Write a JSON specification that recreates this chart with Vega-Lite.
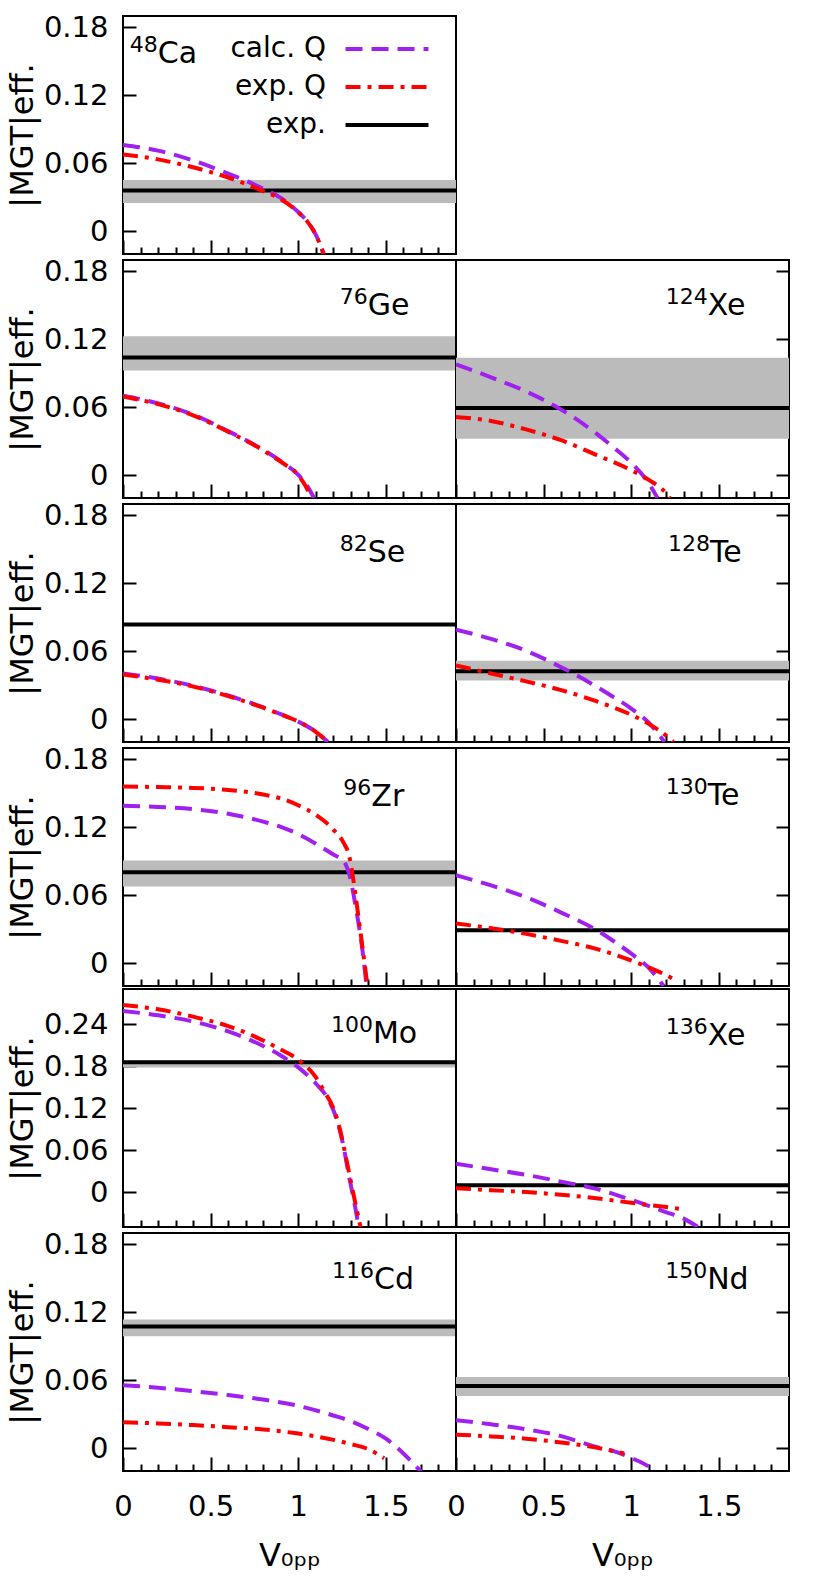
{
  "$schema": "https://vega.github.io/schema/vega-lite/v6.json",
  "description": "|M_GT|eff. versus V0pp for eleven double-beta nuclei",
  "background": "white",
  "padding": {"left": 5, "top": 12, "right": 5, "bottom": 5},
  "datasets": {
    "bands": [
      {"p": "Ca", "lo": 0.0251, "hi": 0.0454},
      {"p": "Ge", "lo": 0.0925, "hi": 0.1228},
      {"p": "Xe124", "lo": 0.0322, "hi": 0.1038},
      {"p": "Se", "lo": 0.0825, "hi": 0.085},
      {"p": "Te128", "lo": 0.0343, "hi": 0.0516},
      {"p": "Zr", "lo": 0.0678, "hi": 0.0907},
      {"p": "Te130", "lo": 0.0285, "hi": 0.030},
      {"p": "Mo", "lo": 0.178, "hi": 0.188},
      {"p": "Xe136", "lo": 0.0085, "hi": 0.0105},
      {"p": "Cd", "lo": 0.0989, "hi": 0.1137},
      {"p": "Nd", "lo": 0.0462, "hi": 0.063}
    ],
    "curves": [
      {"p": "Ca", "s": "exp.", "v": 0, "m": 0.0361},
      {"p": "Ca", "s": "exp.", "v": 1.9, "m": 0.0361},
      {"p": "Ca", "s": "calc. Q", "v": 0, "m": 0.0763},
      {"p": "Ca", "s": "calc. Q", "v": 0.2, "m": 0.0712},
      {"p": "Ca", "s": "calc. Q", "v": 0.4, "m": 0.0625},
      {"p": "Ca", "s": "calc. Q", "v": 0.6, "m": 0.051},
      {"p": "Ca", "s": "calc. Q", "v": 0.8, "m": 0.0376},
      {"p": "Ca", "s": "calc. Q", "v": 0.9, "m": 0.0295},
      {"p": "Ca", "s": "calc. Q", "v": 1.0, "m": 0.017},
      {"p": "Ca", "s": "calc. Q", "v": 1.05, "m": 0.009},
      {"p": "Ca", "s": "calc. Q", "v": 1.1, "m": -0.003},
      {"p": "Ca", "s": "calc. Q", "v": 1.145, "m": -0.02},
      {"p": "Ca", "s": "exp. Q", "v": 0, "m": 0.0679},
      {"p": "Ca", "s": "exp. Q", "v": 0.2, "m": 0.0635},
      {"p": "Ca", "s": "exp. Q", "v": 0.4, "m": 0.0565},
      {"p": "Ca", "s": "exp. Q", "v": 0.6, "m": 0.0475},
      {"p": "Ca", "s": "exp. Q", "v": 0.8, "m": 0.0355},
      {"p": "Ca", "s": "exp. Q", "v": 0.9, "m": 0.0285},
      {"p": "Ca", "s": "exp. Q", "v": 1.0, "m": 0.0168},
      {"p": "Ca", "s": "exp. Q", "v": 1.05, "m": 0.009},
      {"p": "Ca", "s": "exp. Q", "v": 1.1, "m": -0.003},
      {"p": "Ca", "s": "exp. Q", "v": 1.145, "m": -0.02},

      {"p": "Ge", "s": "exp.", "v": 0, "m": 0.104},
      {"p": "Ge", "s": "exp.", "v": 1.9, "m": 0.104},
      {"p": "Ge", "s": "calc. Q", "v": 0, "m": 0.0702},
      {"p": "Ge", "s": "calc. Q", "v": 0.2, "m": 0.0635},
      {"p": "Ge", "s": "calc. Q", "v": 0.4, "m": 0.0535},
      {"p": "Ge", "s": "calc. Q", "v": 0.6, "m": 0.039},
      {"p": "Ge", "s": "calc. Q", "v": 0.8, "m": 0.0225},
      {"p": "Ge", "s": "calc. Q", "v": 0.9, "m": 0.0125},
      {"p": "Ge", "s": "calc. Q", "v": 1.0, "m": 0.0005},
      {"p": "Ge", "s": "calc. Q", "v": 1.05, "m": -0.009},
      {"p": "Ge", "s": "calc. Q", "v": 1.09, "m": -0.02},
      {"p": "Ge", "s": "exp. Q", "v": 0, "m": 0.0695},
      {"p": "Ge", "s": "exp. Q", "v": 0.2, "m": 0.0628},
      {"p": "Ge", "s": "exp. Q", "v": 0.4, "m": 0.053},
      {"p": "Ge", "s": "exp. Q", "v": 0.6, "m": 0.0385},
      {"p": "Ge", "s": "exp. Q", "v": 0.8, "m": 0.022},
      {"p": "Ge", "s": "exp. Q", "v": 0.9, "m": 0.012},
      {"p": "Ge", "s": "exp. Q", "v": 1.0, "m": 0.0},
      {"p": "Ge", "s": "exp. Q", "v": 1.04, "m": -0.009},
      {"p": "Ge", "s": "exp. Q", "v": 1.075, "m": -0.02},

      {"p": "Xe124", "s": "exp.", "v": 0, "m": 0.0594},
      {"p": "Xe124", "s": "exp.", "v": 1.9, "m": 0.0594},
      {"p": "Xe124", "s": "calc. Q", "v": 0, "m": 0.098},
      {"p": "Xe124", "s": "calc. Q", "v": 0.2, "m": 0.0865},
      {"p": "Xe124", "s": "calc. Q", "v": 0.4, "m": 0.074},
      {"p": "Xe124", "s": "calc. Q", "v": 0.6, "m": 0.058},
      {"p": "Xe124", "s": "calc. Q", "v": 0.8, "m": 0.037},
      {"p": "Xe124", "s": "calc. Q", "v": 0.9, "m": 0.0245},
      {"p": "Xe124", "s": "calc. Q", "v": 1.0, "m": 0.011},
      {"p": "Xe124", "s": "calc. Q", "v": 1.1, "m": -0.007},
      {"p": "Xe124", "s": "calc. Q", "v": 1.15, "m": -0.02},
      {"p": "Xe124", "s": "exp. Q", "v": 0, "m": 0.0515},
      {"p": "Xe124", "s": "exp. Q", "v": 0.2, "m": 0.048},
      {"p": "Xe124", "s": "exp. Q", "v": 0.4, "m": 0.0405},
      {"p": "Xe124", "s": "exp. Q", "v": 0.6, "m": 0.031},
      {"p": "Xe124", "s": "exp. Q", "v": 0.8, "m": 0.018},
      {"p": "Xe124", "s": "exp. Q", "v": 1.0, "m": 0.0045},
      {"p": "Xe124", "s": "exp. Q", "v": 1.1, "m": -0.004},
      {"p": "Xe124", "s": "exp. Q", "v": 1.2, "m": -0.016},
      {"p": "Xe124", "s": "exp. Q", "v": 1.22, "m": -0.02},

      {"p": "Se", "s": "exp.", "v": 0, "m": 0.0837},
      {"p": "Se", "s": "exp.", "v": 1.9, "m": 0.0837},
      {"p": "Se", "s": "calc. Q", "v": 0, "m": 0.0405},
      {"p": "Se", "s": "calc. Q", "v": 0.2, "m": 0.036},
      {"p": "Se", "s": "calc. Q", "v": 0.4, "m": 0.0295},
      {"p": "Se", "s": "calc. Q", "v": 0.6, "m": 0.021},
      {"p": "Se", "s": "calc. Q", "v": 0.8, "m": 0.0105},
      {"p": "Se", "s": "calc. Q", "v": 0.9, "m": 0.0045},
      {"p": "Se", "s": "calc. Q", "v": 1.0, "m": -0.002},
      {"p": "Se", "s": "calc. Q", "v": 1.1, "m": -0.011},
      {"p": "Se", "s": "calc. Q", "v": 1.17, "m": -0.02},
      {"p": "Se", "s": "exp. Q", "v": 0, "m": 0.0395},
      {"p": "Se", "s": "exp. Q", "v": 0.2, "m": 0.035},
      {"p": "Se", "s": "exp. Q", "v": 0.4, "m": 0.029},
      {"p": "Se", "s": "exp. Q", "v": 0.6, "m": 0.0205},
      {"p": "Se", "s": "exp. Q", "v": 0.8, "m": 0.0103},
      {"p": "Se", "s": "exp. Q", "v": 0.9, "m": 0.0043},
      {"p": "Se", "s": "exp. Q", "v": 1.0, "m": -0.002},
      {"p": "Se", "s": "exp. Q", "v": 1.1, "m": -0.011},
      {"p": "Se", "s": "exp. Q", "v": 1.17, "m": -0.02},

      {"p": "Te128", "s": "exp.", "v": 0, "m": 0.0425},
      {"p": "Te128", "s": "exp.", "v": 1.9, "m": 0.0425},
      {"p": "Te128", "s": "calc. Q", "v": 0, "m": 0.079},
      {"p": "Te128", "s": "calc. Q", "v": 0.2, "m": 0.071},
      {"p": "Te128", "s": "calc. Q", "v": 0.4, "m": 0.0605},
      {"p": "Te128", "s": "calc. Q", "v": 0.6, "m": 0.046},
      {"p": "Te128", "s": "calc. Q", "v": 0.8, "m": 0.029},
      {"p": "Te128", "s": "calc. Q", "v": 0.9, "m": 0.0195},
      {"p": "Te128", "s": "calc. Q", "v": 1.0, "m": 0.0095},
      {"p": "Te128", "s": "calc. Q", "v": 1.1, "m": -0.003},
      {"p": "Te128", "s": "calc. Q", "v": 1.19, "m": -0.02},
      {"p": "Te128", "s": "exp. Q", "v": 0, "m": 0.0475},
      {"p": "Te128", "s": "exp. Q", "v": 0.2, "m": 0.0405},
      {"p": "Te128", "s": "exp. Q", "v": 0.4, "m": 0.0335},
      {"p": "Te128", "s": "exp. Q", "v": 0.6, "m": 0.0258},
      {"p": "Te128", "s": "exp. Q", "v": 0.8, "m": 0.016},
      {"p": "Te128", "s": "exp. Q", "v": 1.0, "m": 0.004},
      {"p": "Te128", "s": "exp. Q", "v": 1.1, "m": -0.004},
      {"p": "Te128", "s": "exp. Q", "v": 1.2, "m": -0.0145},
      {"p": "Te128", "s": "exp. Q", "v": 1.24, "m": -0.02},

      {"p": "Zr", "s": "exp.", "v": 0, "m": 0.0804},
      {"p": "Zr", "s": "exp.", "v": 1.9, "m": 0.0804},
      {"p": "Zr", "s": "calc. Q", "v": 0, "m": 0.139},
      {"p": "Zr", "s": "calc. Q", "v": 0.2, "m": 0.138},
      {"p": "Zr", "s": "calc. Q", "v": 0.4, "m": 0.136},
      {"p": "Zr", "s": "calc. Q", "v": 0.6, "m": 0.132},
      {"p": "Zr", "s": "calc. Q", "v": 0.8, "m": 0.125},
      {"p": "Zr", "s": "calc. Q", "v": 0.9, "m": 0.1205},
      {"p": "Zr", "s": "calc. Q", "v": 1.0, "m": 0.114},
      {"p": "Zr", "s": "calc. Q", "v": 1.1, "m": 0.1055},
      {"p": "Zr", "s": "calc. Q", "v": 1.2, "m": 0.096},
      {"p": "Zr", "s": "calc. Q", "v": 1.26, "m": 0.09},
      {"p": "Zr", "s": "calc. Q", "v": 1.29, "m": 0.079},
      {"p": "Zr", "s": "calc. Q", "v": 1.33, "m": 0.048},
      {"p": "Zr", "s": "calc. Q", "v": 1.365, "m": 0.013},
      {"p": "Zr", "s": "calc. Q", "v": 1.39, "m": -0.02},
      {"p": "Zr", "s": "exp. Q", "v": 0, "m": 0.156},
      {"p": "Zr", "s": "exp. Q", "v": 0.2, "m": 0.1555},
      {"p": "Zr", "s": "exp. Q", "v": 0.4, "m": 0.1548},
      {"p": "Zr", "s": "exp. Q", "v": 0.6, "m": 0.153},
      {"p": "Zr", "s": "exp. Q", "v": 0.8, "m": 0.149},
      {"p": "Zr", "s": "exp. Q", "v": 0.9, "m": 0.1455},
      {"p": "Zr", "s": "exp. Q", "v": 1.0, "m": 0.1395},
      {"p": "Zr", "s": "exp. Q", "v": 1.1, "m": 0.131},
      {"p": "Zr", "s": "exp. Q", "v": 1.2, "m": 0.118},
      {"p": "Zr", "s": "exp. Q", "v": 1.26, "m": 0.106},
      {"p": "Zr", "s": "exp. Q", "v": 1.29, "m": 0.095},
      {"p": "Zr", "s": "exp. Q", "v": 1.31, "m": 0.078},
      {"p": "Zr", "s": "exp. Q", "v": 1.34, "m": 0.045},
      {"p": "Zr", "s": "exp. Q", "v": 1.37, "m": 0.01},
      {"p": "Zr", "s": "exp. Q", "v": 1.395, "m": -0.02},

      {"p": "Te130", "s": "exp.", "v": 0, "m": 0.0293},
      {"p": "Te130", "s": "exp.", "v": 1.9, "m": 0.0293},
      {"p": "Te130", "s": "calc. Q", "v": 0, "m": 0.0777},
      {"p": "Te130", "s": "calc. Q", "v": 0.2, "m": 0.0688},
      {"p": "Te130", "s": "calc. Q", "v": 0.4, "m": 0.0583},
      {"p": "Te130", "s": "calc. Q", "v": 0.6, "m": 0.0448},
      {"p": "Te130", "s": "calc. Q", "v": 0.8, "m": 0.0295},
      {"p": "Te130", "s": "calc. Q", "v": 0.9, "m": 0.0195},
      {"p": "Te130", "s": "calc. Q", "v": 1.0, "m": 0.0085},
      {"p": "Te130", "s": "calc. Q", "v": 1.1, "m": -0.004},
      {"p": "Te130", "s": "calc. Q", "v": 1.185, "m": -0.02},
      {"p": "Te130", "s": "exp. Q", "v": 0, "m": 0.0352},
      {"p": "Te130", "s": "exp. Q", "v": 0.2, "m": 0.031},
      {"p": "Te130", "s": "exp. Q", "v": 0.4, "m": 0.026},
      {"p": "Te130", "s": "exp. Q", "v": 0.6, "m": 0.0198},
      {"p": "Te130", "s": "exp. Q", "v": 0.8, "m": 0.0128},
      {"p": "Te130", "s": "exp. Q", "v": 1.0, "m": 0.0025},
      {"p": "Te130", "s": "exp. Q", "v": 1.1, "m": -0.0035},
      {"p": "Te130", "s": "exp. Q", "v": 1.2, "m": -0.0105},
      {"p": "Te130", "s": "exp. Q", "v": 1.26, "m": -0.0155},

      {"p": "Mo", "s": "exp.", "v": 0, "m": 0.1855},
      {"p": "Mo", "s": "exp.", "v": 1.9, "m": 0.1855},
      {"p": "Mo", "s": "calc. Q", "v": 0, "m": 0.2585},
      {"p": "Mo", "s": "calc. Q", "v": 0.2, "m": 0.2525},
      {"p": "Mo", "s": "calc. Q", "v": 0.4, "m": 0.2435},
      {"p": "Mo", "s": "calc. Q", "v": 0.6, "m": 0.2295},
      {"p": "Mo", "s": "calc. Q", "v": 0.8, "m": 0.2085},
      {"p": "Mo", "s": "calc. Q", "v": 0.9, "m": 0.195},
      {"p": "Mo", "s": "calc. Q", "v": 1.0, "m": 0.178},
      {"p": "Mo", "s": "calc. Q", "v": 1.1, "m": 0.155},
      {"p": "Mo", "s": "calc. Q", "v": 1.17, "m": 0.133},
      {"p": "Mo", "s": "calc. Q", "v": 1.2, "m": 0.117},
      {"p": "Mo", "s": "calc. Q", "v": 1.23, "m": 0.095},
      {"p": "Mo", "s": "calc. Q", "v": 1.26, "m": 0.063},
      {"p": "Mo", "s": "calc. Q", "v": 1.29, "m": 0.022},
      {"p": "Mo", "s": "calc. Q", "v": 1.32, "m": -0.015},
      {"p": "Mo", "s": "calc. Q", "v": 1.345, "m": -0.05},
      {"p": "Mo", "s": "exp. Q", "v": 0, "m": 0.267},
      {"p": "Mo", "s": "exp. Q", "v": 0.2, "m": 0.261},
      {"p": "Mo", "s": "exp. Q", "v": 0.4, "m": 0.2505},
      {"p": "Mo", "s": "exp. Q", "v": 0.6, "m": 0.237},
      {"p": "Mo", "s": "exp. Q", "v": 0.8, "m": 0.2165},
      {"p": "Mo", "s": "exp. Q", "v": 0.9, "m": 0.2035},
      {"p": "Mo", "s": "exp. Q", "v": 1.0, "m": 0.189},
      {"p": "Mo", "s": "exp. Q", "v": 1.1, "m": 0.164},
      {"p": "Mo", "s": "exp. Q", "v": 1.15, "m": 0.143},
      {"p": "Mo", "s": "exp. Q", "v": 1.2, "m": 0.12},
      {"p": "Mo", "s": "exp. Q", "v": 1.24, "m": 0.087},
      {"p": "Mo", "s": "exp. Q", "v": 1.27, "m": 0.052},
      {"p": "Mo", "s": "exp. Q", "v": 1.3, "m": 0.015},
      {"p": "Mo", "s": "exp. Q", "v": 1.33, "m": -0.021},
      {"p": "Mo", "s": "exp. Q", "v": 1.355, "m": -0.05},

      {"p": "Xe136", "s": "exp.", "v": 0, "m": 0.0095},
      {"p": "Xe136", "s": "exp.", "v": 1.9, "m": 0.0095},
      {"p": "Xe136", "s": "calc. Q", "v": 0, "m": 0.0403},
      {"p": "Xe136", "s": "calc. Q", "v": 0.2, "m": 0.0325},
      {"p": "Xe136", "s": "calc. Q", "v": 0.4, "m": 0.0245},
      {"p": "Xe136", "s": "calc. Q", "v": 0.6, "m": 0.0148},
      {"p": "Xe136", "s": "calc. Q", "v": 0.8, "m": 0.0045},
      {"p": "Xe136", "s": "calc. Q", "v": 1.0, "m": -0.0112},
      {"p": "Xe136", "s": "calc. Q", "v": 1.2, "m": -0.029},
      {"p": "Xe136", "s": "calc. Q", "v": 1.3, "m": -0.038},
      {"p": "Xe136", "s": "calc. Q", "v": 1.38, "m": -0.05},
      {"p": "Xe136", "s": "exp. Q", "v": 0, "m": 0.0055},
      {"p": "Xe136", "s": "exp. Q", "v": 0.2, "m": 0.0025},
      {"p": "Xe136", "s": "exp. Q", "v": 0.4, "m": 0.0},
      {"p": "Xe136", "s": "exp. Q", "v": 0.6, "m": -0.004},
      {"p": "Xe136", "s": "exp. Q", "v": 0.8, "m": -0.0088},
      {"p": "Xe136", "s": "exp. Q", "v": 1.0, "m": -0.0155},
      {"p": "Xe136", "s": "exp. Q", "v": 1.2, "m": -0.0215},
      {"p": "Xe136", "s": "exp. Q", "v": 1.3, "m": -0.0248},

      {"p": "Cd", "s": "exp.", "v": 0, "m": 0.1075},
      {"p": "Cd", "s": "exp.", "v": 1.9, "m": 0.1075},
      {"p": "Cd", "s": "calc. Q", "v": 0, "m": 0.0557},
      {"p": "Cd", "s": "calc. Q", "v": 0.2, "m": 0.0535},
      {"p": "Cd", "s": "calc. Q", "v": 0.4, "m": 0.0505},
      {"p": "Cd", "s": "calc. Q", "v": 0.6, "m": 0.047},
      {"p": "Cd", "s": "calc. Q", "v": 0.8, "m": 0.043},
      {"p": "Cd", "s": "calc. Q", "v": 1.0, "m": 0.0375},
      {"p": "Cd", "s": "calc. Q", "v": 1.2, "m": 0.029},
      {"p": "Cd", "s": "calc. Q", "v": 1.3, "m": 0.024},
      {"p": "Cd", "s": "calc. Q", "v": 1.4, "m": 0.017},
      {"p": "Cd", "s": "calc. Q", "v": 1.5, "m": 0.0085},
      {"p": "Cd", "s": "calc. Q", "v": 1.6, "m": -0.0045},
      {"p": "Cd", "s": "calc. Q", "v": 1.7, "m": -0.0205},
      {"p": "Cd", "s": "exp. Q", "v": 0, "m": 0.0231},
      {"p": "Cd", "s": "exp. Q", "v": 0.2, "m": 0.022},
      {"p": "Cd", "s": "exp. Q", "v": 0.4, "m": 0.0205},
      {"p": "Cd", "s": "exp. Q", "v": 0.6, "m": 0.0187},
      {"p": "Cd", "s": "exp. Q", "v": 0.8, "m": 0.0167},
      {"p": "Cd", "s": "exp. Q", "v": 1.0, "m": 0.013},
      {"p": "Cd", "s": "exp. Q", "v": 1.2, "m": 0.0075},
      {"p": "Cd", "s": "exp. Q", "v": 1.3, "m": 0.0038},
      {"p": "Cd", "s": "exp. Q", "v": 1.4, "m": -0.0008},
      {"p": "Cd", "s": "exp. Q", "v": 1.49, "m": -0.0088},

      {"p": "Nd", "s": "exp.", "v": 0, "m": 0.055},
      {"p": "Nd", "s": "exp.", "v": 1.9, "m": 0.055},
      {"p": "Nd", "s": "calc. Q", "v": 0, "m": 0.0249},
      {"p": "Nd", "s": "calc. Q", "v": 0.2, "m": 0.0212},
      {"p": "Nd", "s": "calc. Q", "v": 0.4, "m": 0.0168},
      {"p": "Nd", "s": "calc. Q", "v": 0.6, "m": 0.0108},
      {"p": "Nd", "s": "calc. Q", "v": 0.8, "m": 0.0012},
      {"p": "Nd", "s": "calc. Q", "v": 0.9, "m": -0.0025},
      {"p": "Nd", "s": "calc. Q", "v": 1.0, "m": -0.0085},
      {"p": "Nd", "s": "calc. Q", "v": 1.1, "m": -0.016},
      {"p": "Nd", "s": "calc. Q", "v": 1.14, "m": -0.02},
      {"p": "Nd", "s": "exp. Q", "v": 0, "m": 0.0121},
      {"p": "Nd", "s": "exp. Q", "v": 0.2, "m": 0.0105},
      {"p": "Nd", "s": "exp. Q", "v": 0.4, "m": 0.0085},
      {"p": "Nd", "s": "exp. Q", "v": 0.6, "m": 0.0052},
      {"p": "Nd", "s": "exp. Q", "v": 0.8, "m": 0.0006},
      {"p": "Nd", "s": "exp. Q", "v": 0.96, "m": -0.0045}
    ]
  },
  "vconcat": [
    {
      "hconcat": [
        {
          "width": 333, "height": 238,
          "layer": [
            {"data": {"name": "bands"}, "transform": [{"filter": "datum.p == 'Ca'"}],
             "mark": {"type": "rect", "color": "#bbbbbb"},
             "encoding": {
               "x": {"datum": 0, "type": "quantitative", "scale": {"domain": [0, 1.9], "nice": false, "zero": false},
                     "axis": {"orient": "bottom", "values": [0, 0.5, 1, 1.5], "tickSize": -14, "labels": false, "title": null}},
               "x2": {"datum": 1.9},
               "y": {"field": "lo", "type": "quantitative", "scale": {"domain": [-0.02, 0.19], "nice": false, "zero": false},
                     "axis": {"orient": "left", "values": [0, 0.06, 0.12, 0.18], "format": ".2~f", "tickSize": -13, "title": "|MGT|eff."}},
               "y2": {"field": "hi"}}},
            {"data": {"name": "curves"}, "transform": [{"filter": "datum.p == 'Ca'"}],
             "mark": {"type": "line", "strokeWidth": 4, "clip": true, "interpolate": "monotone"},
             "encoding": {
               "x": {"field": "v", "type": "quantitative",
                     "axis": {"orient": "bottom", "values": [0.1, 0.2, 0.3, 0.4, 0.6, 0.7, 0.8, 0.9, 1.1, 1.2, 1.3, 1.4, 1.6, 1.7, 1.8], "tickSize": -7, "labels": false, "title": null}},
               "y": {"field": "m", "type": "quantitative", "axis": null},
               "color": {"field": "s", "type": "nominal",
                         "scale": {"domain": ["calc. Q", "exp. Q", "exp."], "range": ["#a020f0", "#ff0000", "#000000"]},
                         "legend": {"orient": "top-right", "title": null, "offset": 19, "padding": 0, "labelFont": "DejaVu Sans", "labelFontSize": 28, "labelColor": "black", "labelAlign": "right", "labelOffset": -75, "rowPadding": 10, "symbolType": "M-4,0H4", "symbolSize": 430, "symbolStrokeWidth": 4}},
               "strokeDash": {"field": "s", "type": "nominal",
                              "scale": {"domain": ["calc. Q", "exp. Q", "exp."], "range": [[17, 9], [15, 7, 4, 7], [1, 0]]},
                              "legend": {"orient": "top-right", "title": null, "offset": 19, "padding": 0, "labelFont": "DejaVu Sans", "labelFontSize": 28, "labelColor": "black", "labelAlign": "right", "labelOffset": -75, "rowPadding": 10, "symbolType": "M-4,0H4", "symbolSize": 430, "symbolStrokeWidth": 4}}}},
            {"data": {"values": [{}]},
             "mark": {"type": "text", "text": "48", "align": "right", "baseline": "alphabetic", "fontSize": 22, "dy": -11},
             "encoding": {"x": {"datum": 0.198, "type": "quantitative", "axis": null}, "y": {"datum": 0.1488, "type": "quantitative", "axis": null}}},
            {"data": {"values": [{}]},
             "mark": {"type": "text", "text": "Ca", "align": "left", "baseline": "alphabetic", "fontSize": 30},
             "encoding": {"x": {"datum": 0.198, "type": "quantitative", "axis": null}, "y": {"datum": 0.1488, "type": "quantitative", "axis": null}}}
          ],
          "resolve": {"axis": {"x": "independent", "y": "independent"}}
        }
      ],
      "spacing": 0,
      "bounds": "flush",
      "resolve": {"scale": {"color": "independent", "strokeDash": "independent"}}
    },
    {
      "hconcat": [
        {
          "width": 333, "height": 238,
          "layer": [
            {"data": {"name": "bands"}, "transform": [{"filter": "datum.p == 'Ge'"}],
             "mark": {"type": "rect", "color": "#bbbbbb"},
             "encoding": {
               "x": {"datum": 0, "type": "quantitative", "scale": {"domain": [0, 1.9], "nice": false, "zero": false},
                     "axis": {"orient": "bottom", "values": [0, 0.5, 1, 1.5], "tickSize": -14, "labels": false, "title": null}},
               "x2": {"datum": 1.9},
               "y": {"field": "lo", "type": "quantitative", "scale": {"domain": [-0.02, 0.19], "nice": false, "zero": false},
                     "axis": {"orient": "left", "values": [0, 0.06, 0.12, 0.18], "format": ".2~f", "tickSize": -13, "title": "|MGT|eff."}},
               "y2": {"field": "hi"}}},
            {"data": {"name": "curves"}, "transform": [{"filter": "datum.p == 'Ge'"}],
             "mark": {"type": "line", "strokeWidth": 4, "clip": true, "interpolate": "monotone"},
             "encoding": {
               "x": {"field": "v", "type": "quantitative",
                     "axis": {"orient": "bottom", "values": [0.1, 0.2, 0.3, 0.4, 0.6, 0.7, 0.8, 0.9, 1.1, 1.2, 1.3, 1.4, 1.6, 1.7, 1.8], "tickSize": -7, "labels": false, "title": null}},
               "y": {"field": "m", "type": "quantitative", "axis": null},
               "color": {"field": "s", "type": "nominal", "scale": {"domain": ["calc. Q", "exp. Q", "exp."], "range": ["#a020f0", "#ff0000", "#000000"]}, "legend": null},
               "strokeDash": {"field": "s", "type": "nominal", "scale": {"domain": ["calc. Q", "exp. Q", "exp."], "range": [[17, 9], [15, 7, 4, 7], [1, 0]]}, "legend": null}}},
            {"data": {"values": [{}]},
             "mark": {"type": "text", "text": "76", "align": "right", "baseline": "alphabetic", "fontSize": 22, "dy": -11},
             "encoding": {"x": {"datum": 1.396, "type": "quantitative", "axis": null}, "y": {"datum": 0.1412, "type": "quantitative", "axis": null}}},
            {"data": {"values": [{}]},
             "mark": {"type": "text", "text": "Ge", "align": "left", "baseline": "alphabetic", "fontSize": 30},
             "encoding": {"x": {"datum": 1.396, "type": "quantitative", "axis": null}, "y": {"datum": 0.1412, "type": "quantitative", "axis": null}}}
          ],
          "resolve": {"axis": {"x": "independent", "y": "independent"}}
        },
        {
          "width": 333, "height": 238,
          "layer": [
            {"data": {"name": "bands"}, "transform": [{"filter": "datum.p == 'Xe124'"}],
             "mark": {"type": "rect", "color": "#bbbbbb"},
             "encoding": {
               "x": {"datum": 0, "type": "quantitative", "scale": {"domain": [0, 1.9], "nice": false, "zero": false},
                     "axis": {"orient": "bottom", "values": [0, 0.5, 1, 1.5], "tickSize": -14, "labels": false, "title": null}},
               "x2": {"datum": 1.9},
               "y": {"field": "lo", "type": "quantitative", "scale": {"domain": [-0.02, 0.19], "nice": false, "zero": false},
                     "axis": {"orient": "right", "values": [0, 0.06, 0.12, 0.18], "tickSize": -13, "labels": false, "title": null}},
               "y2": {"field": "hi"}}},
            {"data": {"name": "curves"}, "transform": [{"filter": "datum.p == 'Xe124'"}],
             "mark": {"type": "line", "strokeWidth": 4, "clip": true, "interpolate": "monotone"},
             "encoding": {
               "x": {"field": "v", "type": "quantitative",
                     "axis": {"orient": "bottom", "values": [0.1, 0.2, 0.3, 0.4, 0.6, 0.7, 0.8, 0.9, 1.1, 1.2, 1.3, 1.4, 1.6, 1.7, 1.8], "tickSize": -7, "labels": false, "title": null}},
               "y": {"field": "m", "type": "quantitative", "axis": null},
               "color": {"field": "s", "type": "nominal", "scale": {"domain": ["calc. Q", "exp. Q", "exp."], "range": ["#a020f0", "#ff0000", "#000000"]}, "legend": null},
               "strokeDash": {"field": "s", "type": "nominal", "scale": {"domain": ["calc. Q", "exp. Q", "exp."], "range": [[17, 9], [15, 7, 4, 7], [1, 0]]}, "legend": null}}},
            {"data": {"values": [{}]},
             "mark": {"type": "text", "text": "124", "align": "right", "baseline": "alphabetic", "fontSize": 22, "dy": -11},
             "encoding": {"x": {"datum": 1.437, "type": "quantitative", "axis": null}, "y": {"datum": 0.1412, "type": "quantitative", "axis": null}}},
            {"data": {"values": [{}]},
             "mark": {"type": "text", "text": "Xe", "align": "left", "baseline": "alphabetic", "fontSize": 30},
             "encoding": {"x": {"datum": 1.437, "type": "quantitative", "axis": null}, "y": {"datum": 0.1412, "type": "quantitative", "axis": null}}}
          ],
          "resolve": {"axis": {"x": "independent", "y": "independent"}}
        }
      ],
      "spacing": 0,
      "bounds": "flush",
      "resolve": {"scale": {"color": "independent", "strokeDash": "independent"}}
    },
    {
      "hconcat": [
        {
          "width": 333, "height": 238,
          "layer": [
            {"data": {"name": "bands"}, "transform": [{"filter": "datum.p == 'Se'"}],
             "mark": {"type": "rect", "color": "#bbbbbb"},
             "encoding": {
               "x": {"datum": 0, "type": "quantitative", "scale": {"domain": [0, 1.9], "nice": false, "zero": false},
                     "axis": {"orient": "bottom", "values": [0, 0.5, 1, 1.5], "tickSize": -14, "labels": false, "title": null}},
               "x2": {"datum": 1.9},
               "y": {"field": "lo", "type": "quantitative", "scale": {"domain": [-0.02, 0.19], "nice": false, "zero": false},
                     "axis": {"orient": "left", "values": [0, 0.06, 0.12, 0.18], "format": ".2~f", "tickSize": -13, "title": "|MGT|eff."}},
               "y2": {"field": "hi"}}},
            {"data": {"name": "curves"}, "transform": [{"filter": "datum.p == 'Se'"}],
             "mark": {"type": "line", "strokeWidth": 4, "clip": true, "interpolate": "monotone"},
             "encoding": {
               "x": {"field": "v", "type": "quantitative",
                     "axis": {"orient": "bottom", "values": [0.1, 0.2, 0.3, 0.4, 0.6, 0.7, 0.8, 0.9, 1.1, 1.2, 1.3, 1.4, 1.6, 1.7, 1.8], "tickSize": -7, "labels": false, "title": null}},
               "y": {"field": "m", "type": "quantitative", "axis": null},
               "color": {"field": "s", "type": "nominal", "scale": {"domain": ["calc. Q", "exp. Q", "exp."], "range": ["#a020f0", "#ff0000", "#000000"]}, "legend": null},
               "strokeDash": {"field": "s", "type": "nominal", "scale": {"domain": ["calc. Q", "exp. Q", "exp."], "range": [[17, 9], [15, 7, 4, 7], [1, 0]]}, "legend": null}}},
            {"data": {"values": [{}]},
             "mark": {"type": "text", "text": "82", "align": "right", "baseline": "alphabetic", "fontSize": 22, "dy": -11},
             "encoding": {"x": {"datum": 1.396, "type": "quantitative", "axis": null}, "y": {"datum": 0.139, "type": "quantitative", "axis": null}}},
            {"data": {"values": [{}]},
             "mark": {"type": "text", "text": "Se", "align": "left", "baseline": "alphabetic", "fontSize": 30},
             "encoding": {"x": {"datum": 1.396, "type": "quantitative", "axis": null}, "y": {"datum": 0.139, "type": "quantitative", "axis": null}}}
          ],
          "resolve": {"axis": {"x": "independent", "y": "independent"}}
        },
        {
          "width": 333, "height": 238,
          "layer": [
            {"data": {"name": "bands"}, "transform": [{"filter": "datum.p == 'Te128'"}],
             "mark": {"type": "rect", "color": "#bbbbbb"},
             "encoding": {
               "x": {"datum": 0, "type": "quantitative", "scale": {"domain": [0, 1.9], "nice": false, "zero": false},
                     "axis": {"orient": "bottom", "values": [0, 0.5, 1, 1.5], "tickSize": -14, "labels": false, "title": null}},
               "x2": {"datum": 1.9},
               "y": {"field": "lo", "type": "quantitative", "scale": {"domain": [-0.02, 0.19], "nice": false, "zero": false},
                     "axis": {"orient": "right", "values": [0, 0.06, 0.12, 0.18], "tickSize": -13, "labels": false, "title": null}},
               "y2": {"field": "hi"}}},
            {"data": {"name": "curves"}, "transform": [{"filter": "datum.p == 'Te128'"}],
             "mark": {"type": "line", "strokeWidth": 4, "clip": true, "interpolate": "monotone"},
             "encoding": {
               "x": {"field": "v", "type": "quantitative",
                     "axis": {"orient": "bottom", "values": [0.1, 0.2, 0.3, 0.4, 0.6, 0.7, 0.8, 0.9, 1.1, 1.2, 1.3, 1.4, 1.6, 1.7, 1.8], "tickSize": -7, "labels": false, "title": null}},
               "y": {"field": "m", "type": "quantitative", "axis": null},
               "color": {"field": "s", "type": "nominal", "scale": {"domain": ["calc. Q", "exp. Q", "exp."], "range": ["#a020f0", "#ff0000", "#000000"]}, "legend": null},
               "strokeDash": {"field": "s", "type": "nominal", "scale": {"domain": ["calc. Q", "exp. Q", "exp."], "range": [[17, 9], [15, 7, 4, 7], [1, 0]]}, "legend": null}}},
            {"data": {"values": [{}]},
             "mark": {"type": "text", "text": "128", "align": "right", "baseline": "alphabetic", "fontSize": 22, "dy": -11},
             "encoding": {"x": {"datum": 1.449, "type": "quantitative", "axis": null}, "y": {"datum": 0.139, "type": "quantitative", "axis": null}}},
            {"data": {"values": [{}]},
             "mark": {"type": "text", "text": "Te", "align": "left", "baseline": "alphabetic", "fontSize": 30},
             "encoding": {"x": {"datum": 1.449, "type": "quantitative", "axis": null}, "y": {"datum": 0.139, "type": "quantitative", "axis": null}}}
          ],
          "resolve": {"axis": {"x": "independent", "y": "independent"}}
        }
      ],
      "spacing": 0,
      "bounds": "flush",
      "resolve": {"scale": {"color": "independent", "strokeDash": "independent"}}
    },
    {
      "hconcat": [
        {
          "width": 333, "height": 238,
          "layer": [
            {"data": {"name": "bands"}, "transform": [{"filter": "datum.p == 'Zr'"}],
             "mark": {"type": "rect", "color": "#bbbbbb"},
             "encoding": {
               "x": {"datum": 0, "type": "quantitative", "scale": {"domain": [0, 1.9], "nice": false, "zero": false},
                     "axis": {"orient": "bottom", "values": [0, 0.5, 1, 1.5], "tickSize": -14, "labels": false, "title": null}},
               "x2": {"datum": 1.9},
               "y": {"field": "lo", "type": "quantitative", "scale": {"domain": [-0.02, 0.19], "nice": false, "zero": false},
                     "axis": {"orient": "left", "values": [0, 0.06, 0.12, 0.18], "format": ".2~f", "tickSize": -13, "title": "|MGT|eff."}},
               "y2": {"field": "hi"}}},
            {"data": {"name": "curves"}, "transform": [{"filter": "datum.p == 'Zr'"}],
             "mark": {"type": "line", "strokeWidth": 4, "clip": true, "interpolate": "monotone"},
             "encoding": {
               "x": {"field": "v", "type": "quantitative",
                     "axis": {"orient": "bottom", "values": [0.1, 0.2, 0.3, 0.4, 0.6, 0.7, 0.8, 0.9, 1.1, 1.2, 1.3, 1.4, 1.6, 1.7, 1.8], "tickSize": -7, "labels": false, "title": null}},
               "y": {"field": "m", "type": "quantitative", "axis": null},
               "color": {"field": "s", "type": "nominal", "scale": {"domain": ["calc. Q", "exp. Q", "exp."], "range": ["#a020f0", "#ff0000", "#000000"]}, "legend": null},
               "strokeDash": {"field": "s", "type": "nominal", "scale": {"domain": ["calc. Q", "exp. Q", "exp."], "range": [[17, 9], [15, 7, 4, 7], [1, 0]]}, "legend": null}}},
            {"data": {"values": [{}]},
             "mark": {"type": "text", "text": "96", "align": "right", "baseline": "alphabetic", "fontSize": 22, "dy": -11},
             "encoding": {"x": {"datum": 1.417, "type": "quantitative", "axis": null}, "y": {"datum": 0.139, "type": "quantitative", "axis": null}}},
            {"data": {"values": [{}]},
             "mark": {"type": "text", "text": "Zr", "align": "left", "baseline": "alphabetic", "fontSize": 30},
             "encoding": {"x": {"datum": 1.417, "type": "quantitative", "axis": null}, "y": {"datum": 0.139, "type": "quantitative", "axis": null}}}
          ],
          "resolve": {"axis": {"x": "independent", "y": "independent"}}
        },
        {
          "width": 333, "height": 238,
          "layer": [
            {"data": {"name": "bands"}, "transform": [{"filter": "datum.p == 'Te130'"}],
             "mark": {"type": "rect", "color": "#bbbbbb"},
             "encoding": {
               "x": {"datum": 0, "type": "quantitative", "scale": {"domain": [0, 1.9], "nice": false, "zero": false},
                     "axis": {"orient": "bottom", "values": [0, 0.5, 1, 1.5], "tickSize": -14, "labels": false, "title": null}},
               "x2": {"datum": 1.9},
               "y": {"field": "lo", "type": "quantitative", "scale": {"domain": [-0.02, 0.19], "nice": false, "zero": false},
                     "axis": {"orient": "right", "values": [0, 0.06, 0.12, 0.18], "tickSize": -13, "labels": false, "title": null}},
               "y2": {"field": "hi"}}},
            {"data": {"name": "curves"}, "transform": [{"filter": "datum.p == 'Te130'"}],
             "mark": {"type": "line", "strokeWidth": 4, "clip": true, "interpolate": "monotone"},
             "encoding": {
               "x": {"field": "v", "type": "quantitative",
                     "axis": {"orient": "bottom", "values": [0.1, 0.2, 0.3, 0.4, 0.6, 0.7, 0.8, 0.9, 1.1, 1.2, 1.3, 1.4, 1.6, 1.7, 1.8], "tickSize": -7, "labels": false, "title": null}},
               "y": {"field": "m", "type": "quantitative", "axis": null},
               "color": {"field": "s", "type": "nominal", "scale": {"domain": ["calc. Q", "exp. Q", "exp."], "range": ["#a020f0", "#ff0000", "#000000"]}, "legend": null},
               "strokeDash": {"field": "s", "type": "nominal", "scale": {"domain": ["calc. Q", "exp. Q", "exp."], "range": [[17, 9], [15, 7, 4, 7], [1, 0]]}, "legend": null}}},
            {"data": {"values": [{}]},
             "mark": {"type": "text", "text": "130", "align": "right", "baseline": "alphabetic", "fontSize": 22, "dy": -11},
             "encoding": {"x": {"datum": 1.437, "type": "quantitative", "axis": null}, "y": {"datum": 0.14, "type": "quantitative", "axis": null}}},
            {"data": {"values": [{}]},
             "mark": {"type": "text", "text": "Te", "align": "left", "baseline": "alphabetic", "fontSize": 30},
             "encoding": {"x": {"datum": 1.437, "type": "quantitative", "axis": null}, "y": {"datum": 0.14, "type": "quantitative", "axis": null}}}
          ],
          "resolve": {"axis": {"x": "independent", "y": "independent"}}
        }
      ],
      "spacing": 0,
      "bounds": "flush",
      "resolve": {"scale": {"color": "independent", "strokeDash": "independent"}}
    },
    {
      "hconcat": [
        {
          "width": 333, "height": 238,
          "layer": [
            {"data": {"name": "bands"}, "transform": [{"filter": "datum.p == 'Mo'"}],
             "mark": {"type": "rect", "color": "#bbbbbb"},
             "encoding": {
               "x": {"datum": 0, "type": "quantitative", "scale": {"domain": [0, 1.9], "nice": false, "zero": false},
                     "axis": {"orient": "bottom", "values": [0, 0.5, 1, 1.5], "tickSize": -14, "labels": false, "title": null}},
               "x2": {"datum": 1.9},
               "y": {"field": "lo", "type": "quantitative", "scale": {"domain": [-0.05, 0.29], "nice": false, "zero": false},
                     "axis": {"orient": "left", "values": [0, 0.06, 0.12, 0.18, 0.24], "format": ".2~f", "tickSize": -13, "title": "|MGT|eff."}},
               "y2": {"field": "hi"}}},
            {"data": {"name": "curves"}, "transform": [{"filter": "datum.p == 'Mo'"}],
             "mark": {"type": "line", "strokeWidth": 4, "clip": true, "interpolate": "monotone"},
             "encoding": {
               "x": {"field": "v", "type": "quantitative",
                     "axis": {"orient": "bottom", "values": [0.1, 0.2, 0.3, 0.4, 0.6, 0.7, 0.8, 0.9, 1.1, 1.2, 1.3, 1.4, 1.6, 1.7, 1.8], "tickSize": -7, "labels": false, "title": null}},
               "y": {"field": "m", "type": "quantitative", "axis": null},
               "color": {"field": "s", "type": "nominal", "scale": {"domain": ["calc. Q", "exp. Q", "exp."], "range": ["#a020f0", "#ff0000", "#000000"]}, "legend": null},
               "strokeDash": {"field": "s", "type": "nominal", "scale": {"domain": ["calc. Q", "exp. Q", "exp."], "range": [[17, 9], [15, 7, 4, 7], [1, 0]]}, "legend": null}}},
            {"data": {"values": [{}]},
             "mark": {"type": "text", "text": "100", "align": "right", "baseline": "alphabetic", "fontSize": 22, "dy": -11},
             "encoding": {"x": {"datum": 1.426, "type": "quantitative", "axis": null}, "y": {"datum": 0.2135, "type": "quantitative", "axis": null}}},
            {"data": {"values": [{}]},
             "mark": {"type": "text", "text": "Mo", "align": "left", "baseline": "alphabetic", "fontSize": 30},
             "encoding": {"x": {"datum": 1.426, "type": "quantitative", "axis": null}, "y": {"datum": 0.2135, "type": "quantitative", "axis": null}}}
          ],
          "resolve": {"axis": {"x": "independent", "y": "independent"}}
        },
        {
          "width": 333, "height": 238,
          "layer": [
            {"data": {"name": "bands"}, "transform": [{"filter": "datum.p == 'Xe136'"}],
             "mark": {"type": "rect", "color": "#bbbbbb"},
             "encoding": {
               "x": {"datum": 0, "type": "quantitative", "scale": {"domain": [0, 1.9], "nice": false, "zero": false},
                     "axis": {"orient": "bottom", "values": [0, 0.5, 1, 1.5], "tickSize": -14, "labels": false, "title": null}},
               "x2": {"datum": 1.9},
               "y": {"field": "lo", "type": "quantitative", "scale": {"domain": [-0.05, 0.29], "nice": false, "zero": false},
                     "axis": {"orient": "right", "values": [0, 0.06, 0.12, 0.18, 0.24], "tickSize": -13, "labels": false, "title": null}},
               "y2": {"field": "hi"}}},
            {"data": {"name": "curves"}, "transform": [{"filter": "datum.p == 'Xe136'"}],
             "mark": {"type": "line", "strokeWidth": 4, "clip": true, "interpolate": "monotone"},
             "encoding": {
               "x": {"field": "v", "type": "quantitative",
                     "axis": {"orient": "bottom", "values": [0.1, 0.2, 0.3, 0.4, 0.6, 0.7, 0.8, 0.9, 1.1, 1.2, 1.3, 1.4, 1.6, 1.7, 1.8], "tickSize": -7, "labels": false, "title": null}},
               "y": {"field": "m", "type": "quantitative", "axis": null},
               "color": {"field": "s", "type": "nominal", "scale": {"domain": ["calc. Q", "exp. Q", "exp."], "range": ["#a020f0", "#ff0000", "#000000"]}, "legend": null},
               "strokeDash": {"field": "s", "type": "nominal", "scale": {"domain": ["calc. Q", "exp. Q", "exp."], "range": [[17, 9], [15, 7, 4, 7], [1, 0]]}, "legend": null}}},
            {"data": {"values": [{}]},
             "mark": {"type": "text", "text": "136", "align": "right", "baseline": "alphabetic", "fontSize": 22, "dy": -11},
             "encoding": {"x": {"datum": 1.437, "type": "quantitative", "axis": null}, "y": {"datum": 0.21, "type": "quantitative", "axis": null}}},
            {"data": {"values": [{}]},
             "mark": {"type": "text", "text": "Xe", "align": "left", "baseline": "alphabetic", "fontSize": 30},
             "encoding": {"x": {"datum": 1.437, "type": "quantitative", "axis": null}, "y": {"datum": 0.21, "type": "quantitative", "axis": null}}}
          ],
          "resolve": {"axis": {"x": "independent", "y": "independent"}}
        }
      ],
      "spacing": 0,
      "bounds": "flush",
      "resolve": {"scale": {"color": "independent", "strokeDash": "independent"}}
    },
    {
      "hconcat": [
        {
          "width": 333, "height": 238,
          "layer": [
            {"data": {"name": "bands"}, "transform": [{"filter": "datum.p == 'Cd'"}],
             "mark": {"type": "rect", "color": "#bbbbbb"},
             "encoding": {
               "x": {"datum": 0, "type": "quantitative", "scale": {"domain": [0, 1.9], "nice": false, "zero": false},
                     "axis": {"orient": "bottom", "values": [0, 0.5, 1, 1.5], "format": ".1~f", "tickSize": -14, "title": "V₀ₚₚ"}},
               "x2": {"datum": 1.9},
               "y": {"field": "lo", "type": "quantitative", "scale": {"domain": [-0.02, 0.19], "nice": false, "zero": false},
                     "axis": {"orient": "left", "values": [0, 0.06, 0.12, 0.18], "format": ".2~f", "tickSize": -13, "title": "|MGT|eff."}},
               "y2": {"field": "hi"}}},
            {"data": {"name": "curves"}, "transform": [{"filter": "datum.p == 'Cd'"}],
             "mark": {"type": "line", "strokeWidth": 4, "clip": true, "interpolate": "monotone"},
             "encoding": {
               "x": {"field": "v", "type": "quantitative",
                     "axis": {"orient": "bottom", "values": [0.1, 0.2, 0.3, 0.4, 0.6, 0.7, 0.8, 0.9, 1.1, 1.2, 1.3, 1.4, 1.6, 1.7, 1.8], "tickSize": -7, "labels": false, "title": null}},
               "y": {"field": "m", "type": "quantitative", "axis": null},
               "color": {"field": "s", "type": "nominal", "scale": {"domain": ["calc. Q", "exp. Q", "exp."], "range": ["#a020f0", "#ff0000", "#000000"]}, "legend": null},
               "strokeDash": {"field": "s", "type": "nominal", "scale": {"domain": ["calc. Q", "exp. Q", "exp."], "range": [[17, 9], [15, 7, 4, 7], [1, 0]]}, "legend": null}}},
            {"data": {"values": [{}]},
             "mark": {"type": "text", "text": "116", "align": "right", "baseline": "alphabetic", "fontSize": 22, "dy": -11},
             "encoding": {"x": {"datum": 1.432, "type": "quantitative", "axis": null}, "y": {"datum": 0.141, "type": "quantitative", "axis": null}}},
            {"data": {"values": [{}]},
             "mark": {"type": "text", "text": "Cd", "align": "left", "baseline": "alphabetic", "fontSize": 30},
             "encoding": {"x": {"datum": 1.432, "type": "quantitative", "axis": null}, "y": {"datum": 0.141, "type": "quantitative", "axis": null}}}
          ],
          "resolve": {"axis": {"x": "independent", "y": "independent"}}
        },
        {
          "width": 333, "height": 238,
          "layer": [
            {"data": {"name": "bands"}, "transform": [{"filter": "datum.p == 'Nd'"}],
             "mark": {"type": "rect", "color": "#bbbbbb"},
             "encoding": {
               "x": {"datum": 0, "type": "quantitative", "scale": {"domain": [0, 1.9], "nice": false, "zero": false},
                     "axis": {"orient": "bottom", "values": [0, 0.5, 1, 1.5], "format": ".1~f", "tickSize": -14, "title": "V₀ₚₚ"}},
               "x2": {"datum": 1.9},
               "y": {"field": "lo", "type": "quantitative", "scale": {"domain": [-0.02, 0.19], "nice": false, "zero": false},
                     "axis": {"orient": "right", "values": [0, 0.06, 0.12, 0.18], "tickSize": -13, "labels": false, "title": null}},
               "y2": {"field": "hi"}}},
            {"data": {"name": "curves"}, "transform": [{"filter": "datum.p == 'Nd'"}],
             "mark": {"type": "line", "strokeWidth": 4, "clip": true, "interpolate": "monotone"},
             "encoding": {
               "x": {"field": "v", "type": "quantitative",
                     "axis": {"orient": "bottom", "values": [0.1, 0.2, 0.3, 0.4, 0.6, 0.7, 0.8, 0.9, 1.1, 1.2, 1.3, 1.4, 1.6, 1.7, 1.8], "tickSize": -7, "labels": false, "title": null}},
               "y": {"field": "m", "type": "quantitative", "axis": null},
               "color": {"field": "s", "type": "nominal", "scale": {"domain": ["calc. Q", "exp. Q", "exp."], "range": ["#a020f0", "#ff0000", "#000000"]}, "legend": null},
               "strokeDash": {"field": "s", "type": "nominal", "scale": {"domain": ["calc. Q", "exp. Q", "exp."], "range": [[17, 9], [15, 7, 4, 7], [1, 0]]}, "legend": null}}},
            {"data": {"values": [{}]},
             "mark": {"type": "text", "text": "150", "align": "right", "baseline": "alphabetic", "fontSize": 22, "dy": -11},
             "encoding": {"x": {"datum": 1.433, "type": "quantitative", "axis": null}, "y": {"datum": 0.141, "type": "quantitative", "axis": null}}},
            {"data": {"values": [{}]},
             "mark": {"type": "text", "text": "Nd", "align": "left", "baseline": "alphabetic", "fontSize": 30},
             "encoding": {"x": {"datum": 1.433, "type": "quantitative", "axis": null}, "y": {"datum": 0.141, "type": "quantitative", "axis": null}}}
          ],
          "resolve": {"axis": {"x": "independent", "y": "independent"}}
        }
      ],
      "spacing": 0,
      "bounds": "flush",
      "resolve": {"scale": {"color": "independent", "strokeDash": "independent"}}
    }
  ],
  "spacing": 0,
  "resolve": {"scale": {"color": "independent", "strokeDash": "independent"}},
  "config": {
    "view": {"stroke": "black", "strokeWidth": 2},
    "font": "DejaVu Sans",
    "axis": {"domain": false, "grid": false, "tickColor": "black", "tickWidth": 2, "labelFont": "DejaVu Sans", "labelFontSize": 29, "labelColor": "black", "titleFont": "DejaVu Sans", "titleFontSize": 32, "titleFontWeight": "normal", "titleColor": "black", "labelFlush": false, "labelOverlap": false},
    "axisY": {"labelPadding": 28, "titlePadding": 4},
    "axisX": {"labelPadding": 35, "titlePadding": 19},
    "text": {"font": "DejaVu Sans", "color": "black"}
  }
}
